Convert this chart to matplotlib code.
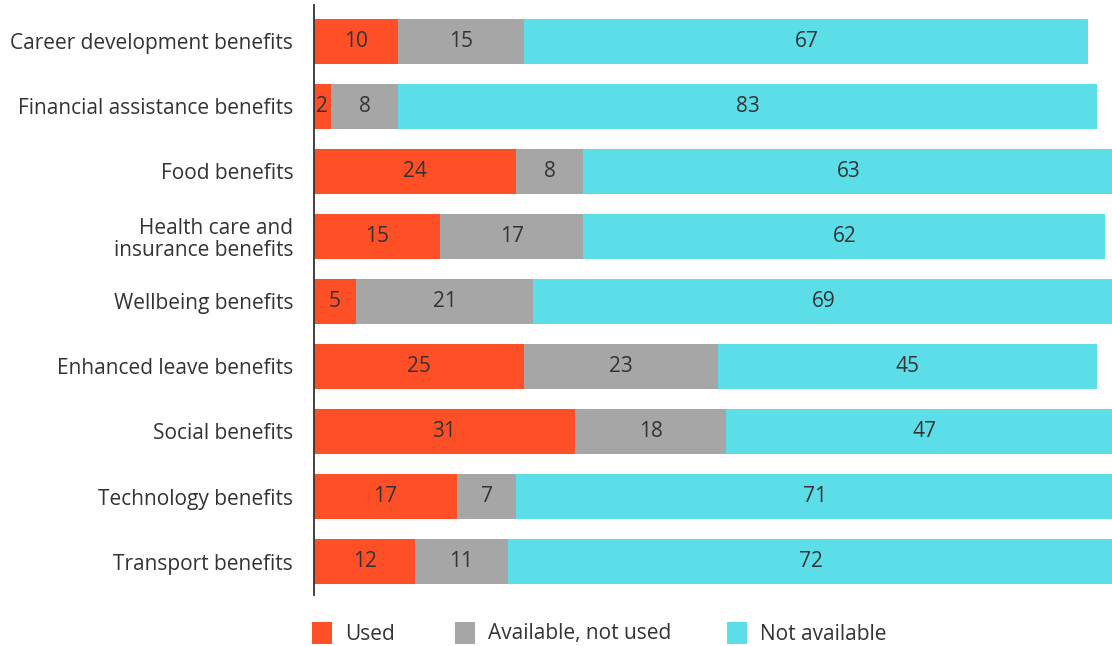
import matplotlib
matplotlib.use("Agg")
import matplotlib.pyplot as plt
from matplotlib.patches import Rectangle

categories = [
    "Career development benefits",
    "Financial assistance benefits",
    "Food benefits",
    "Health care and\ninsurance benefits",
    "Wellbeing benefits",
    "Enhanced leave benefits",
    "Social benefits",
    "Technology benefits",
    "Transport benefits",
]
used = [10, 2, 24, 15, 5, 25, 31, 17, 12]
available_not_used = [15, 8, 8, 17, 21, 23, 18, 7, 11]
not_available = [67, 83, 63, 62, 69, 45, 47, 71, 72]
series_names = ["Used", "Available, not used", "Not available"]
colors = ["#FF4F27", "#A6A6A6", "#5BDEE8"]
text_color = "#333333"
fs = 15

plt.rcParams["font.family"] = ["Open Sans", "DejaVu Sans"]

W, H = 1112, 646
fig = plt.figure(figsize=(W / 100, H / 100), dpi=100)
ax = fig.add_axes([314 / W, 1 - 595 / H, 1 - 314 / W, 590 / H])

ypos = list(range(len(categories)))
left = [0] * len(categories)
for vals, color in zip([used, available_not_used, not_available], colors):
    bars = ax.barh(ypos, vals, left=left, height=0.69, color=color, linewidth=0)
    for b, v in zip(bars, vals):
        ax.text(b.get_x() + b.get_width() / 2, b.get_y() + b.get_height() / 2,
                str(v), ha="center", va="center", fontsize=fs, color=text_color)
    left = [l + v for l, v in zip(left, vals)]

ax.set_xlim(0, 94.8)
ax.set_ylim(8.515, -0.56)
ax.set_yticks(ypos)
ax.set_yticklabels(categories, fontsize=fs, color=text_color, linespacing=1.05)
ax.tick_params(axis="y", length=0, pad=15)
ax.set_xticks([])
for s in ["top", "right", "bottom"]:
    ax.spines[s].set_visible(False)
ax.spines["left"].set_color("#333333")
ax.spines["left"].set_linewidth(1.3)

# legend drawn as swatches along the bottom
swatch_x = [312, 455, 727]
for x, name, color in zip(swatch_x, series_names, colors):
    fig.patches.append(Rectangle((x / W, 1 - 644 / H), 20 / W, 22 / H,
                                 transform=fig.transFigure, color=color, linewidth=0))
    fig.text((x + 33) / W, 1 - 634 / H, name, ha="left", va="center",
             fontsize=fs, color=text_color)

fig.savefig("out.png", dpi=100)
